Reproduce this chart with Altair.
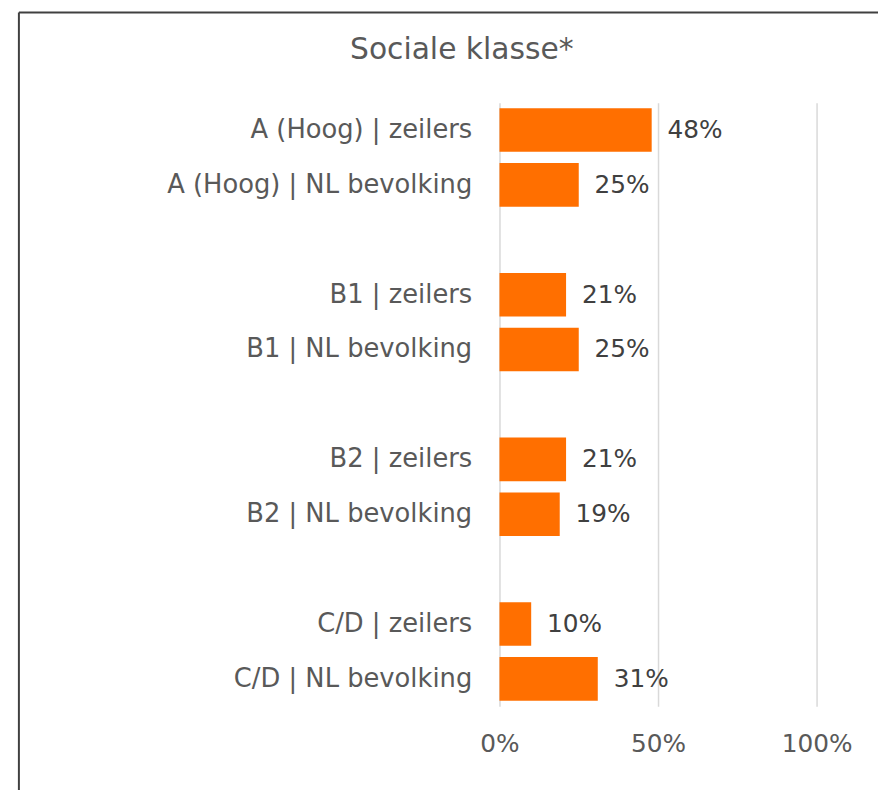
import altair as alt
import pandas as pd

title_text = "Sociale klasse*"
categories = [
    "A (Hoog) | zeilers", "A (Hoog) | NL bevolking",
    "B1 | zeilers", "B1 | NL bevolking",
    "B2 | zeilers", "B2 | NL bevolking",
    "C/D | zeilers", "C/D | NL bevolking",
]
values = [0.48, 0.25, 0.21, 0.25, 0.21, 0.19, 0.10, 0.31]
gap_slots = [" ", "  ", "   "]
x_ticks = [0, 0.5, 1.0]

domain = [categories[0], categories[1], gap_slots[0],
          categories[2], categories[3], gap_slots[1],
          categories[4], categories[5], gap_slots[2],
          categories[6], categories[7]]

df = pd.DataFrame({"cat": categories, "val": values})

FONT = "DejaVu Sans"
ORANGE = "#FF6F00"
GREY = "#595959"
FS = 25

y_enc = alt.Y("cat:N", sort=domain,
              scale=alt.Scale(domain=domain, paddingInner=0.206, paddingOuter=0.1),
              axis=alt.Axis(title=None, domain=False, ticks=False, tickSize=0,
                            labelFontSize=26, labelColor=GREY, labelFont=FONT,
                            labelPadding=28, grid=False, labelLimit=500))
x_enc = alt.X("val:Q", scale=alt.Scale(domain=[0, 1]),
              axis=alt.Axis(title=None, values=x_ticks, format=".0%", domain=False,
                            ticks=False, tickSize=0, grid=True, gridColor="#d9d9d9",
                            gridWidth=1.5, labelFontSize=FS, labelColor=GREY,
                            labelFont=FONT, labelPadding=26, labelFlush=False))

bars = alt.Chart(df).mark_bar(color=ORANGE).encode(x=x_enc, y=y_enc)
labels = alt.Chart(df).mark_text(align="left", baseline="middle", dx=16,
                                 fontSize=FS, font=FONT, color="#404040").encode(
    x="val:Q", y=alt.Y("cat:N", sort=domain), text=alt.Text("val:Q", format=".0%"))

frame_df = pd.DataFrame({"k": [0]})
left_border = alt.Chart(frame_df).mark_rule(color="#404040", strokeWidth=2).encode(
    x=alt.value(-485), y=alt.value(-91), y2=alt.value(800))
top_border = alt.Chart(frame_df).mark_rule(color="#404040", strokeWidth=2).encode(
    x=alt.value(-485), x2=alt.value(500), y=alt.value(-91))

title_df = pd.DataFrame({"t": [title_text]})
title_mark = alt.Chart(title_df).mark_text(
    align="center", baseline="middle", fontSize=30, font=FONT, color=GREY).encode(
    x=alt.value(-38), y=alt.value(-53), text="t:N")

chart = alt.layer(bars, labels, left_border, top_border, title_mark).properties(
    width=320, height=609,
    autosize=alt.AutoSizeParams(type="none"),
    padding={"left": 496, "top": 92, "right": 62, "bottom": 81},
).configure_view(stroke=None)

chart.save("out.html", embed_options={"renderer": "svg", "actions": False})
